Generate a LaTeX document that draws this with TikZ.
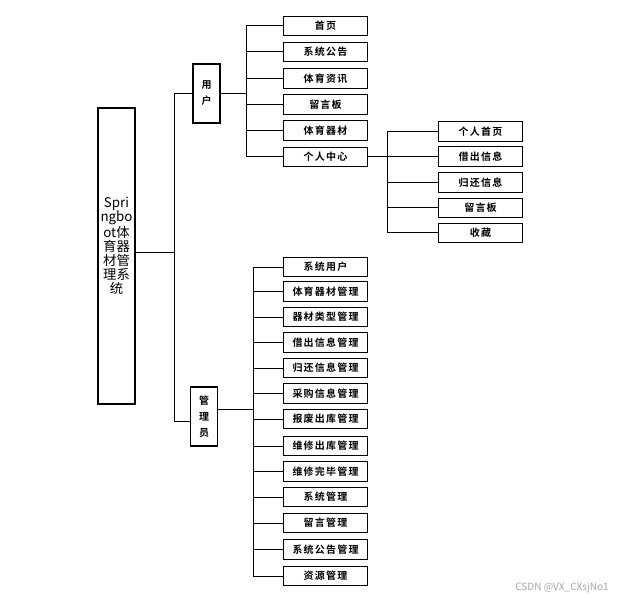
\documentclass[tikz,border=0pt]{standalone}
\usepackage{fontspec}
\newfontfamily\cjk{Noto Sans CJK SC}
\newfontfamily\cjkb{Noto Sans CJK SC Bold}[LetterSpace=12]
\usetikzlibrary{positioning}

\begin{document}
\begin{tikzpicture}[x=0.75pt,y=-0.75pt,line width=0.75pt,
        leaf/.style={draw, rectangle, line width=0.8pt, inner sep=0pt, minimum width=63pt, minimum height=14.5pt, font=\cjkb\fontsize{7.5}{9}\selectfont},
        role/.style={draw, rectangle, line width=0.8pt, inner sep=0pt, minimum width=20.25pt, minimum height=44.25pt, align=center, font=\cjkb\fontsize{7.5}{12}\selectfont}]
        \useasboundingbox (0,0) rectangle (623,598);

        \node (root) [draw, rectangle, line width=0.8pt, inner sep=0pt, minimum width=27.75pt, minimum height=222pt, align=center, font=\cjk\fontsize{10}{10.5}\selectfont] at (116.5,256) {Spri\\ngbo\\ot体\\育器\\材管\\理系\\统\\[6pt]};
        \node (user) [role] at (206.5,93.5) {用\\户};
        \node (admin) [role] at (204,416.5) {管\\理\\员};

        % user side
        \node (u1) [leaf] at (325.5,26) {首页};
        \node (u2) [leaf] at (325.5,52) {系统公告};
        \node (u3) [leaf] at (325.5,78.5) {体育资讯};
        \node (u4) [leaf] at (325.5,104.5) {留言板};
        \node (u5) [leaf] at (325.5,130.5) {体育器材};
        \node (u6) [leaf] at (325.5,157) {个人中心};

        \node (p1) [leaf] at (480.5,131.5) {个人首页};
        \node (p2) [leaf] at (480.5,156.5) {借出信息};
        \node (p3) [leaf] at (480.5,182.5) {归还信息};
        \node (p4) [leaf] at (480.5,208) {留言板};
        \node (p5) [leaf] at (480.5,233) {收藏};

        % admin side
        \node (a1) [leaf] at (325.5,267) {系统用户};
        \node (a2) [leaf] at (325.5,291.5) {体育器材管理};
        \node (a3) [leaf] at (325.5,317) {器材类型管理};
        \node (a4) [leaf] at (325.5,342.5) {借出信息管理};
        \node (a5) [leaf] at (325.5,368) {归还信息管理};
        \node (a6) [leaf] at (325.5,393.5) {采购信息管理};
        \node (a7) [leaf] at (325.5,419) {报废出库管理};
        \node (a8) [leaf] at (325.5,446) {维修出库管理};
        \node (a9) [leaf] at (325.5,471.5) {维修完毕管理};
        \node (a10) [leaf] at (325.5,497) {系统管理};
        \node (a11) [leaf] at (325.5,523) {留言管理};
        \node (a12) [leaf] at (325.5,549.5) {系统公告管理};
        \node (a13) [leaf] at (325.5,576) {资源管理};

        % bus lines
        \coordinate (b0) at (174,0);
        \coordinate (b1) at (246,0);
        \coordinate (b2) at (253,0);
        \coordinate (b3) at (387,0);
        \coordinate (re) at ([yshift=3pt]root.east);
        \coordinate (aw) at ([yshift=-4pt]admin.west);
        \coordinate (ae) at ([yshift=5.5pt]admin.east);

        \draw (re) -- (re -| b0);
        \draw (user.west) -| (b0 |- aw) -- (aw);

        \draw (user.east) -- (user -| b1);
        \draw (u1.west) -- (u1 -| b1) -- (u6 -| b1) -- (u6.west);
        \foreach \i in {2,...,5}
            \draw (u\i.west) -- (u\i -| b1);

        \draw (u6.east) -- (u6 -| b3);
        \draw (p1.west) -- (p1 -| b3) -- (p5 -| b3) -- (p5.west);
        \foreach \i in {2,...,4}
            \draw (p\i.west) -- (p\i -| b3);

        \draw (ae) -- (ae -| b2);
        \draw (a1.west) -- (a1 -| b2) -- (a13 -| b2) -- (a13.west);
        \foreach \i in {2,...,12}
            \draw (a\i.west) -- (a\i -| b2);

        \node (mark) [text=black!35, font=\cjk\fontsize{7.5}{9}\selectfont] at (562,588) {CSDN @VX\_CXsjNo1};
\end{tikzpicture}
\end{document}
